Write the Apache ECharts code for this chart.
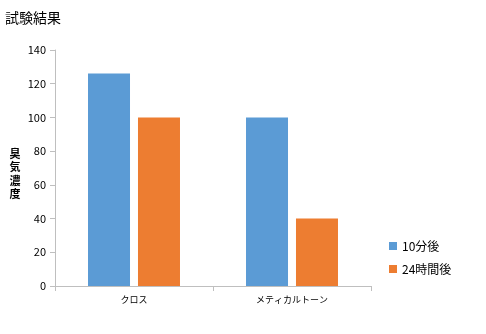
<!DOCTYPE html>
<html><head><meta charset="utf-8">
<script src="https://cdn.jsdelivr.net/npm/echarts@6/dist/echarts.min.js"></script>
<style>html,body{margin:0;padding:0;background:#fff}#c{width:486px;height:334px}</style>
</head><body><div id="c"></div>
<script>
const categories = ['クロス', 'メティカルトーン'];
const series10min = [126, 100];
const series24h = [100, 40];
const seriesNames = ['10分後', '24時間後'];
const yTicks = [0, 20, 40, 60, 80, 100, 120, 140];
const yAxisTitle = '臭気濃度';

const chart = echarts.init(document.getElementById('c'));
const font = '"Noto Sans CJK JP", "Noto Sans", sans-serif';
const titleChars = yAxisTitle.split('').map((ch, i) => ({
  type: 'text', x: 15, y: 148 + i * 13.5,
  style: { text: ch, font: 'bold 11px ' + font, fill: '#000', align: 'center', verticalAlign: 'top' }
}));
chart.setOption({
  animation: false,
  textStyle: { fontFamily: font },
  title: { text: '試験結果', left: 0, top: 6, textStyle: { fontSize: 14, fontWeight: 'normal', color: '#000', fontFamily: font } },
  legend: {
    orient: 'vertical', left: 384, top: 235, itemWidth: 8, itemHeight: 8, itemGap: 11,
    icon: 'rect', textStyle: { fontSize: 12, color: '#000', fontFamily: font },
    data: seriesNames
  },
  graphic: titleChars,
  grid: { left: 55, right: 115, top: 50, bottom: 48, containLabel: false },
  xAxis: {
    type: 'category', data: categories,
    axisLine: { lineStyle: { color: '#bfbfbf' } },
    axisTick: { show: true, length: 5, lineStyle: { color: '#bfbfbf' } },
    axisLabel: { fontSize: 9, color: '#000', margin: 9, fontFamily: font }
  },
  yAxis: {
    type: 'value', min: yTicks[0], max: yTicks[yTicks.length - 1], interval: 20,
    axisLine: { show: true, lineStyle: { color: '#bfbfbf' } },
    axisTick: { show: true, length: 5, lineStyle: { color: '#bfbfbf' } },
    splitLine: { show: false },
    axisLabel: { fontSize: 11, color: '#000', margin: 9, fontFamily: font }
  },
  series: [
    { name: seriesNames[0], type: 'bar', data: series10min, barWidth: 42, barGap: '19%', itemStyle: { color: '#5B9BD5' } },
    { name: seriesNames[1], type: 'bar', data: series24h, barWidth: 42, itemStyle: { color: '#ED7D31' } }
  ]
});
</script></body></html>
